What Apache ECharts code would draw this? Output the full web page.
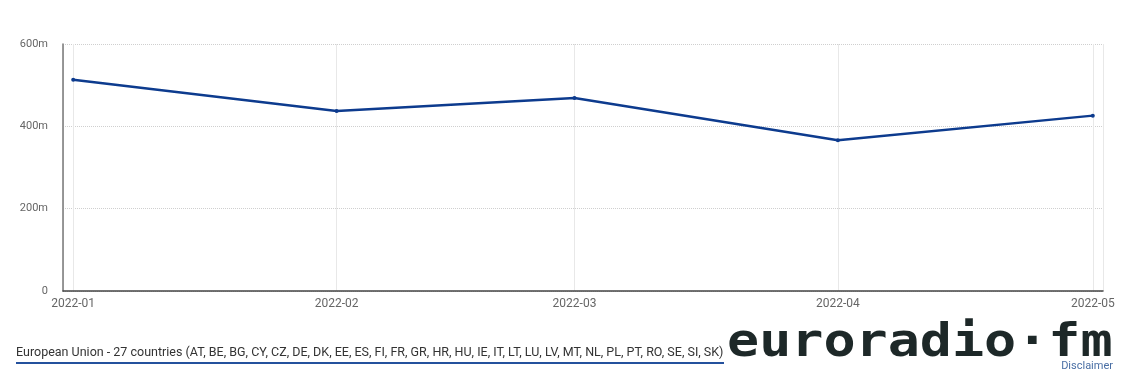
<!DOCTYPE html>
<html>
<head>
<meta charset="utf-8">
<script src="https://cdn.jsdelivr.net/npm/echarts@6/dist/echarts.min.js"></script>
<style>
html,body{margin:0;padding:0;background:#fff;}
#chart{width:1123px;height:375px;}
</style>
</head>
<body>
<div id="chart"></div>
<script>
// Data
const categories = ['2022-01-01', '2022-02-01', '2022-03-01', '2022-04-01', '2022-05-01'];
const seriesValues = [513, 437, 469, 366, 426];
const seriesName = 'European Union - 27 countries (AT, BE, BG, CY, CZ, DE, DK, EE, ES, FI, FR, GR, HR, HU, IE, IT, LT, LU, LV, MT, NL, PL, PT, RO, SE, SI, SK)';
const yTicks = [0, 200, 400, 600];

const DAY = 86400000;
const first = new Date(2022, 0, 1).getTime();
const last = new Date(2022, 4, 1).getTime();

const chart = echarts.init(document.getElementById('chart'), null, {renderer: 'canvas'});
const option = {
  animation: false,
  backgroundColor: '#fff',
  grid: {left: 63, right: 20, top: 44, bottom: 84, containLabel: false},
  xAxis: {
    type: 'time',
    min: first - 1.2 * DAY,
    max: last + 1.2 * DAY,
    minInterval: 28 * DAY,
    maxInterval: 31 * DAY,
    axisLine: {show: true, lineStyle: {color: '#444', width: 1.5}},
    axisTick: {show: false},
    axisLabel: {
      formatter: '{yyyy}-{MM}',
      color: '#666',
      fontFamily: 'Roboto, sans-serif',
      fontSize: 12,
      margin: 7,
      showMinLabel: false,
      showMaxLabel: false
    },
    splitLine: {show: true, lineStyle: {color: '#e8e8e8', width: 1, type: 'solid'}}
  },
  yAxis: {
    type: 'value',
    min: yTicks[0],
    max: yTicks[yTicks.length - 1],
    interval: yTicks[1] - yTicks[0],
    axisLine: {show: true, lineStyle: {color: '#777', width: 1.5}},
    axisTick: {show: false},
    axisLabel: {
      formatter: v => v === 0 ? '0' : v + 'm',
      color: '#666',
      fontFamily: 'Roboto, sans-serif',
      fontSize: 11,
      margin: 15
    },
    splitLine: {show: true, lineStyle: {color: '#cfcfcf', width: 1, type: [1, 1]}}
  },
  series: [{
    name: seriesName,
    type: 'line',
    data: categories.map((c, i) => [c, seriesValues[i]]),
    symbol: 'circle',
    symbolSize: 4,
    showSymbol: true,
    lineStyle: {color: '#0d3b8e', width: 2.5},
    itemStyle: {color: '#0d3b8e'}
  }],
  graphic: [
    {
      type: 'text',
      left: 16,
      top: 346,
      style: {
        text: seriesName,
        fill: '#333',
        font: '12.5px Roboto, sans-serif'
      }
    },
    {
      type: 'rect',
      left: 16,
      top: 362,
      shape: {width: 708, height: 2},
      style: {fill: '#24519d'}
    },
    {
      type: 'text',
      x: 727,
      y: 321,
      scaleX: 1.16,
      style: {
        text: 'euroradio·fm',
        fill: '#1d2828',
        font: 'bold 46px "DejaVu Sans Mono", monospace',
        textVerticalAlign: 'top'
      }
    },
    {
      type: 'text',
      right: 10,
      top: 361,
      style: {
        text: 'Disclaimer',
        fill: '#4a6fa5',
        font: '11px Roboto, sans-serif'
      }
    }
  ]
};
chart.setOption(option);
</script>
</body>
</html>
